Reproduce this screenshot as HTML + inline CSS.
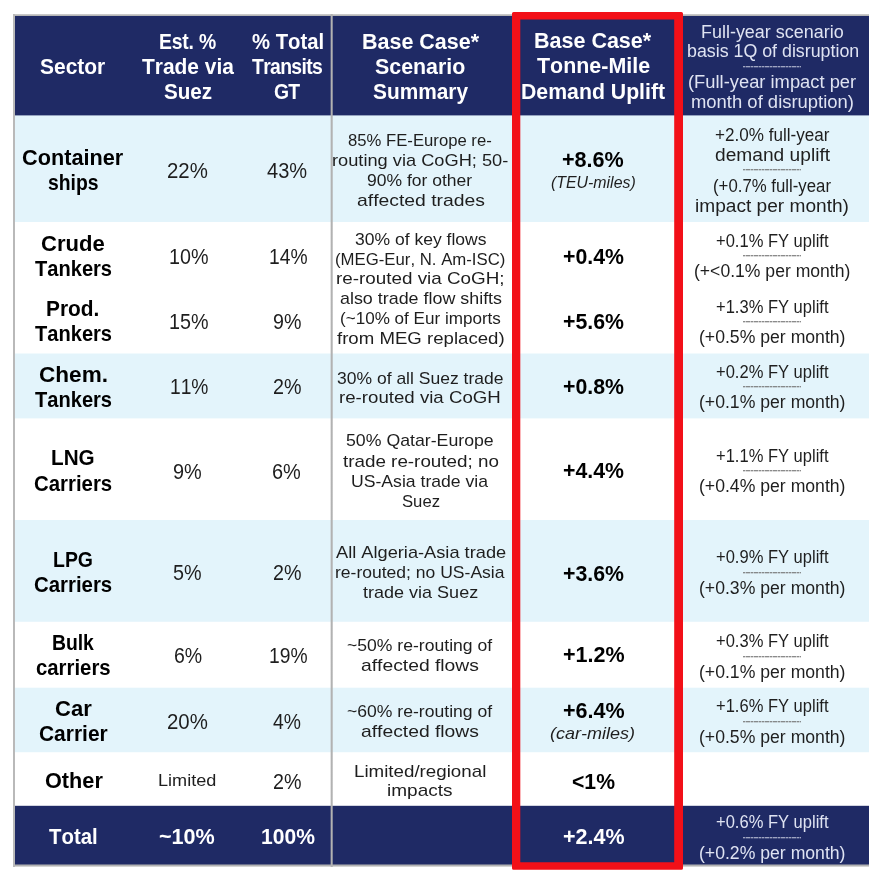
<!DOCTYPE html>
<html lang="en"><head><meta charset="utf-8"><title>Suez disruption scenario table</title>
<style>
html,body{margin:0;padding:0;background:#fff;}
body{width:876px;height:877px;position:relative;overflow:hidden;font-family:"Liberation Sans",sans-serif;}
.row{position:absolute;left:15px;width:854px;}
.t{position:absolute;transform-origin:0 0;font-kerning:none;white-space:nowrap;line-height:24px;height:24px;margin:0;padding:0;}
.dash{position:absolute;left:742.5px;width:58.5px;height:2px;opacity:.8;background:linear-gradient(180deg,rgba(0,0,0,1) 0 55%,rgba(0,0,0,.35) 55% 100%);-webkit-mask:repeating-linear-gradient(90deg,#000 0 2px,rgba(0,0,0,.45) 2px 2.7px);mask:repeating-linear-gradient(90deg,#000 0 2px,rgba(0,0,0,.45) 2px 2.7px);}
.dash.w{background:linear-gradient(180deg,#c9cde0 0 55%,rgba(201,205,224,.35) 55% 100%);opacity:.75;}
.dash.k{background:linear-gradient(180deg,#6f6f6f 0 55%,rgba(111,111,111,.35) 55% 100%);}
.bt{position:absolute;left:13px;top:14px;width:856px;height:2px;background:linear-gradient(180deg,#d2d2d2,#adadad);}
.bl{position:absolute;left:13px;top:14px;width:2px;height:853px;background:#b9b9b9;}
.bb{position:absolute;left:13px;top:865px;width:856px;height:2px;background:linear-gradient(180deg,#b2b2b2 0 50%,#d4d4d4 50% 100%);}
.vline{position:absolute;left:330px;top:14px;width:3px;height:853px;background:linear-gradient(90deg,rgba(176,176,176,.35) 0 1px,#b2b2b2 1px 2px,rgba(176,176,176,.7) 2px 3px);}
.red{position:absolute;left:0;top:0;width:876px;height:877px;pointer-events:none;}
</style></head><body>
<div class="bt"></div><div class="bb"></div><div class="bl"></div>
<div class="row" style="top:16px;height:99px;background:#1f2a65"></div>
<div class="row" style="top:115px;height:1px;background:#95a3bf"></div>
<div class="row" style="top:116px;height:106px;background:#e3f4fb"></div>
<div class="row" style="top:222px;height:131px;background:#ffffff"></div>
<div class="row" style="top:353px;height:1px;background:#f1fafd"></div>
<div class="row" style="top:354px;height:64px;background:#e3f4fb"></div>
<div class="row" style="top:418px;height:1px;background:#f4fbfd"></div>
<div class="row" style="top:419px;height:101px;background:#ffffff"></div>
<div class="row" style="top:520px;height:101px;background:#e3f4fb"></div>
<div class="row" style="top:621px;height:1px;background:#e9f6fc"></div>
<div class="row" style="top:622px;height:65px;background:#ffffff"></div>
<div class="row" style="top:687px;height:1px;background:#f7fcfe"></div>
<div class="row" style="top:688px;height:64px;background:#e3f4fb"></div>
<div class="row" style="top:752px;height:1px;background:#f9fdfe"></div>
<div class="row" style="top:753px;height:52px;background:#ffffff"></div>
<div class="row" style="top:805px;height:1px;background:#d2d4e0"></div>
<div class="row" style="top:806px;height:58px;background:#1f2a65"></div>
<div class="row" style="top:864px;height:1px;background:#6a6f8c"></div>
<div class="vline"></div>
<div class="dash w" style="top:66px"></div>
<div class="dash k" style="top:169px"></div>
<div class="dash k" style="top:255px"></div>
<div class="dash k" style="top:321px"></div>
<div class="dash k" style="top:386px"></div>
<div class="dash k" style="top:470px"></div>
<div class="dash k" style="top:572px"></div>
<div class="dash k" style="top:656px"></div>
<div class="dash k" style="top:721px"></div>
<div class="dash w" style="top:837px"></div>
<span class="t" style="left:40.40px;top:55.40px;font-size:22.5px;color:#fff;letter-spacing:0.000px;transform:scaleX(0.9314);font-weight:bold;">Sector</span>
<span class="t" style="left:159.01px;top:29.90px;font-size:22.5px;color:#fff;letter-spacing:-0.201px;transform:scaleX(0.8600);font-weight:bold;">Est. %</span>
<span class="t" style="left:141.76px;top:54.90px;font-size:22.5px;color:#fff;letter-spacing:0.000px;transform:scaleX(0.9302);font-weight:bold;">Trade via</span>
<span class="t" style="left:164.21px;top:79.70px;font-size:22.5px;color:#fff;letter-spacing:0.000px;transform:scaleX(0.9167);font-weight:bold;">Suez</span>
<span class="t" style="left:251.80px;top:29.90px;font-size:22.5px;color:#fff;letter-spacing:0.000px;transform:scaleX(0.9005);font-weight:bold;">% Total</span>
<span class="t" style="left:252.48px;top:54.90px;font-size:22.5px;color:#fff;letter-spacing:-0.758px;transform:scaleX(0.8600);font-weight:bold;">Transits</span>
<span class="t" style="left:273.61px;top:79.70px;font-size:22.5px;color:#fff;letter-spacing:-1.000px;transform:scaleX(0.8600);font-weight:bold;">GT</span>
<span class="t" style="left:361.56px;top:29.70px;font-size:22.5px;color:#fff;letter-spacing:0.000px;transform:scaleX(0.9549);font-weight:bold;">Base Case*</span>
<span class="t" style="left:374.98px;top:54.90px;font-size:22.5px;color:#fff;letter-spacing:0.000px;transform:scaleX(0.9506);font-weight:bold;">Scenario</span>
<span class="t" style="left:372.80px;top:79.70px;font-size:22.5px;color:#fff;letter-spacing:0.000px;transform:scaleX(0.9265);font-weight:bold;">Summary</span>
<span class="t" style="left:534.46px;top:29.20px;font-size:22.5px;color:#fff;letter-spacing:0.000px;transform:scaleX(0.9557);font-weight:bold;">Base Case*</span>
<span class="t" style="left:536.86px;top:54.40px;font-size:22.5px;color:#fff;letter-spacing:0.000px;transform:scaleX(0.9523);font-weight:bold;">Tonne-Mile</span>
<span class="t" style="left:521.38px;top:79.50px;font-size:22.5px;color:#fff;letter-spacing:0.000px;transform:scaleX(0.9448);font-weight:bold;">Demand Uplift</span>
<span class="t" style="left:700.73px;top:19.70px;font-size:17.5px;color:#dfe3f2;letter-spacing:0.000px;transform:scaleX(1.0255);">Full-year scenario</span>
<span class="t" style="left:686.75px;top:39.40px;font-size:17.5px;color:#dfe3f2;letter-spacing:0.000px;transform:scaleX(1.0174);">basis 1Q of disruption</span>
<span class="t" style="left:688.26px;top:70.40px;font-size:17.5px;color:#dfe3f2;letter-spacing:0.000px;transform:scaleX(1.0479);">(Full-year impact per</span>
<span class="t" style="left:690.58px;top:90.10px;font-size:17.5px;color:#dfe3f2;letter-spacing:0.000px;transform:scaleX(1.0537);">month of disruption)</span>
<span class="t" style="left:22.11px;top:146.20px;font-size:22.5px;color:#000;letter-spacing:0.000px;transform:scaleX(0.9639);font-weight:bold;">Container</span>
<span class="t" style="left:47.82px;top:171.20px;font-size:22.5px;color:#000;letter-spacing:-0.019px;transform:scaleX(0.8600);font-weight:bold;">ships</span>
<span class="t" style="left:40.70px;top:231.70px;font-size:22.5px;color:#000;letter-spacing:0.000px;transform:scaleX(0.9792);font-weight:bold;">Crude</span>
<span class="t" style="left:34.77px;top:256.80px;font-size:22.5px;color:#000;letter-spacing:0.000px;transform:scaleX(0.8928);font-weight:bold;">Tankers</span>
<span class="t" style="left:46.10px;top:296.70px;font-size:22.5px;color:#000;letter-spacing:0.000px;transform:scaleX(0.9275);font-weight:bold;">Prod.</span>
<span class="t" style="left:34.77px;top:321.90px;font-size:22.5px;color:#000;letter-spacing:0.000px;transform:scaleX(0.8928);font-weight:bold;">Tankers</span>
<span class="t" style="left:38.57px;top:362.80px;font-size:22.5px;color:#000;letter-spacing:0.000px;transform:scaleX(1.0031);font-weight:bold;">Chem.</span>
<span class="t" style="left:34.77px;top:388.00px;font-size:22.5px;color:#000;letter-spacing:0.000px;transform:scaleX(0.8928);font-weight:bold;">Tankers</span>
<span class="t" style="left:51.12px;top:446.20px;font-size:22.5px;color:#000;letter-spacing:0.000px;transform:scaleX(0.9194);font-weight:bold;">LNG</span>
<span class="t" style="left:34.16px;top:471.80px;font-size:22.5px;color:#000;letter-spacing:0.000px;transform:scaleX(0.9057);font-weight:bold;">Carriers</span>
<span class="t" style="left:53.20px;top:547.70px;font-size:22.5px;color:#000;letter-spacing:0.000px;transform:scaleX(0.8650);font-weight:bold;">LPG</span>
<span class="t" style="left:34.16px;top:573.20px;font-size:22.5px;color:#000;letter-spacing:0.000px;transform:scaleX(0.9057);font-weight:bold;">Carriers</span>
<span class="t" style="left:52.21px;top:630.90px;font-size:22.5px;color:#000;letter-spacing:-0.060px;transform:scaleX(0.8600);font-weight:bold;">Bulk</span>
<span class="t" style="left:35.71px;top:656.20px;font-size:22.5px;color:#000;letter-spacing:0.000px;transform:scaleX(0.9038);font-weight:bold;">carriers</span>
<span class="t" style="left:54.60px;top:696.80px;font-size:22.5px;color:#000;letter-spacing:0.000px;transform:scaleX(0.9792);font-weight:bold;">Car</span>
<span class="t" style="left:38.64px;top:722.20px;font-size:22.5px;color:#000;letter-spacing:0.000px;transform:scaleX(0.9306);font-weight:bold;">Carrier</span>
<span class="t" style="left:44.51px;top:769.20px;font-size:22.5px;color:#000;letter-spacing:0.000px;transform:scaleX(0.9635);font-weight:bold;">Other</span>
<span class="t" style="left:49.27px;top:825.00px;font-size:22.5px;color:#fff;letter-spacing:0.000px;transform:scaleX(0.9056);font-weight:bold;">Total</span>
<span class="t" style="left:167.17px;top:159.00px;font-size:22px;color:#1e1e1e;letter-spacing:0.000px;transform:scaleX(0.9278);">22%</span>
<span class="t" style="left:267.04px;top:159.00px;font-size:22px;color:#1e1e1e;letter-spacing:0.000px;transform:scaleX(0.9101);">43%</span>
<span class="t" style="left:168.50px;top:245.20px;font-size:22px;color:#1e1e1e;letter-spacing:0.000px;transform:scaleX(0.8972);">10%</span>
<span class="t" style="left:268.53px;top:245.20px;font-size:22px;color:#1e1e1e;letter-spacing:0.000px;transform:scaleX(0.8756);">14%</span>
<span class="t" style="left:168.50px;top:310.00px;font-size:22px;color:#1e1e1e;letter-spacing:0.000px;transform:scaleX(0.8972);">15%</span>
<span class="t" style="left:272.68px;top:310.00px;font-size:22px;color:#1e1e1e;letter-spacing:0.000px;transform:scaleX(0.8939);">9%</span>
<span class="t" style="left:169.54px;top:375.10px;font-size:22px;color:#1e1e1e;letter-spacing:0.000px;transform:scaleX(0.8732);">11%</span>
<span class="t" style="left:272.61px;top:375.10px;font-size:22px;color:#1e1e1e;letter-spacing:0.000px;transform:scaleX(0.8961);">2%</span>
<span class="t" style="left:173.17px;top:460.00px;font-size:22px;color:#1e1e1e;letter-spacing:0.000px;transform:scaleX(0.9039);">9%</span>
<span class="t" style="left:272.19px;top:460.00px;font-size:22px;color:#1e1e1e;letter-spacing:0.000px;transform:scaleX(0.9065);">6%</span>
<span class="t" style="left:173.31px;top:561.30px;font-size:22px;color:#1e1e1e;letter-spacing:0.000px;transform:scaleX(0.8994);">5%</span>
<span class="t" style="left:272.61px;top:561.30px;font-size:22px;color:#1e1e1e;letter-spacing:0.000px;transform:scaleX(0.8961);">2%</span>
<span class="t" style="left:173.51px;top:643.80px;font-size:22px;color:#1e1e1e;letter-spacing:0.000px;transform:scaleX(0.8864);">6%</span>
<span class="t" style="left:268.53px;top:643.80px;font-size:22px;color:#1e1e1e;letter-spacing:0.000px;transform:scaleX(0.8756);">19%</span>
<span class="t" style="left:167.17px;top:710.00px;font-size:22px;color:#1e1e1e;letter-spacing:0.000px;transform:scaleX(0.9278);">20%</span>
<span class="t" style="left:273.16px;top:710.00px;font-size:22px;color:#1e1e1e;letter-spacing:0.000px;transform:scaleX(0.8785);">4%</span>
<span class="t" style="left:157.72px;top:769.20px;font-size:17px;color:#1e1e1e;letter-spacing:0.000px;transform:scaleX(1.0648);">Limited</span>
<span class="t" style="left:272.61px;top:769.70px;font-size:22px;color:#1e1e1e;letter-spacing:0.000px;transform:scaleX(0.8961);">2%</span>
<span class="t" style="left:159.45px;top:824.90px;font-size:22.5px;color:#fff;letter-spacing:0.000px;transform:scaleX(0.9596);font-weight:bold;">~10%</span>
<span class="t" style="left:260.67px;top:824.90px;font-size:22.5px;color:#fff;letter-spacing:0.000px;transform:scaleX(0.9363);font-weight:bold;">100%</span>
<span class="t" style="left:348.47px;top:129.20px;font-size:17px;color:#1e1e1e;letter-spacing:0.000px;transform:scaleX(0.9817);">85% FE-Europe re-</span>
<span class="t" style="left:332.39px;top:149.20px;font-size:17px;color:#1e1e1e;letter-spacing:0.000px;transform:scaleX(1.0725);">routing via CoGH; 50-</span>
<span class="t" style="left:367.48px;top:168.90px;font-size:17px;color:#1e1e1e;letter-spacing:0.000px;transform:scaleX(1.0299);">90% for other</span>
<span class="t" style="left:356.58px;top:188.60px;font-size:17px;color:#1e1e1e;letter-spacing:0.000px;transform:scaleX(1.1375);">affected trades</span>
<span class="t" style="left:354.53px;top:227.70px;font-size:17px;color:#1e1e1e;letter-spacing:0.000px;transform:scaleX(1.0309);">30% of key flows</span>
<span class="t" style="left:334.96px;top:247.70px;font-size:17px;color:#1e1e1e;letter-spacing:0.000px;transform:scaleX(0.9858);">(MEG-Eur, N. Am-ISC)</span>
<span class="t" style="left:335.55px;top:267.40px;font-size:17px;color:#1e1e1e;letter-spacing:0.000px;transform:scaleX(1.1080);">re-routed via CoGH;</span>
<span class="t" style="left:339.64px;top:287.10px;font-size:17px;color:#1e1e1e;letter-spacing:0.000px;transform:scaleX(1.0519);">also trade flow shifts</span>
<span class="t" style="left:339.94px;top:307.10px;font-size:17px;color:#1e1e1e;letter-spacing:0.000px;transform:scaleX(1.0046);">(~10% of Eur imports</span>
<span class="t" style="left:336.54px;top:327.10px;font-size:17px;color:#1e1e1e;letter-spacing:0.000px;transform:scaleX(1.0952);">from MEG replaced)</span>
<span class="t" style="left:337.33px;top:366.70px;font-size:17px;color:#1e1e1e;letter-spacing:0.000px;transform:scaleX(1.0300);">30% of all Suez trade</span>
<span class="t" style="left:338.96px;top:386.10px;font-size:17px;color:#1e1e1e;letter-spacing:0.000px;transform:scaleX(1.0975);">re-routed via CoGH</span>
<span class="t" style="left:345.89px;top:429.00px;font-size:17px;color:#1e1e1e;letter-spacing:0.000px;transform:scaleX(1.0420);">50% Qatar-Europe</span>
<span class="t" style="left:342.52px;top:449.50px;font-size:17px;color:#1e1e1e;letter-spacing:0.000px;transform:scaleX(1.1070);">trade re-routed; no</span>
<span class="t" style="left:350.94px;top:469.50px;font-size:17px;color:#1e1e1e;letter-spacing:0.000px;transform:scaleX(1.0362);">US-Asia trade via</span>
<span class="t" style="left:402.04px;top:489.60px;font-size:17px;color:#1e1e1e;letter-spacing:0.000px;transform:scaleX(0.9804);">Suez</span>
<span class="t" style="left:335.66px;top:540.70px;font-size:17px;color:#1e1e1e;letter-spacing:-0.000px;transform:scaleX(1.0719);">All Algeria-Asia trade</span>
<span class="t" style="left:334.54px;top:560.60px;font-size:17px;color:#1e1e1e;letter-spacing:0.000px;transform:scaleX(1.0308);">re-routed; no US-Asia</span>
<span class="t" style="left:363.23px;top:580.60px;font-size:17px;color:#1e1e1e;letter-spacing:0.000px;transform:scaleX(1.0598);">trade via Suez</span>
<span class="t" style="left:347.41px;top:634.00px;font-size:17px;color:#1e1e1e;letter-spacing:0.000px;transform:scaleX(1.0344);">~50% re-routing of</span>
<span class="t" style="left:360.78px;top:654.40px;font-size:17px;color:#1e1e1e;letter-spacing:0.000px;transform:scaleX(1.1344);">affected flows</span>
<span class="t" style="left:347.41px;top:699.90px;font-size:17px;color:#1e1e1e;letter-spacing:0.000px;transform:scaleX(1.0344);">~60% re-routing of</span>
<span class="t" style="left:360.78px;top:719.80px;font-size:17px;color:#1e1e1e;letter-spacing:0.000px;transform:scaleX(1.1344);">affected flows</span>
<span class="t" style="left:354.26px;top:760.00px;font-size:17px;color:#1e1e1e;letter-spacing:0.000px;transform:scaleX(1.1023);">Limited/regional</span>
<span class="t" style="left:386.73px;top:779.00px;font-size:17px;color:#1e1e1e;letter-spacing:-0.000px;transform:scaleX(1.1193);">impacts</span>
<span class="t" style="left:562.49px;top:148.30px;font-size:22.5px;color:#000;letter-spacing:0.000px;transform:scaleX(0.9589);font-weight:bold;">+8.6%</span>
<span class="t" style="left:550.66px;top:171.10px;font-size:17px;color:#1e1e1e;letter-spacing:0.000px;transform:scaleX(0.9342);font-style:italic;">(TEU-miles)</span>
<span class="t" style="left:563.01px;top:244.70px;font-size:22.5px;color:#000;letter-spacing:0.000px;transform:scaleX(0.9462);font-weight:bold;">+0.4%</span>
<span class="t" style="left:563.01px;top:309.90px;font-size:22.5px;color:#000;letter-spacing:0.000px;transform:scaleX(0.9462);font-weight:bold;">+5.6%</span>
<span class="t" style="left:563.01px;top:375.10px;font-size:22.5px;color:#000;letter-spacing:0.000px;transform:scaleX(0.9462);font-weight:bold;">+0.8%</span>
<span class="t" style="left:563.01px;top:459.20px;font-size:22.5px;color:#000;letter-spacing:0.000px;transform:scaleX(0.9462);font-weight:bold;">+4.4%</span>
<span class="t" style="left:563.01px;top:561.50px;font-size:22.5px;color:#000;letter-spacing:0.000px;transform:scaleX(0.9462);font-weight:bold;">+3.6%</span>
<span class="t" style="left:562.70px;top:643.20px;font-size:22.5px;color:#000;letter-spacing:0.000px;transform:scaleX(0.9557);font-weight:bold;">+1.2%</span>
<span class="t" style="left:562.70px;top:699.40px;font-size:22.5px;color:#000;letter-spacing:0.000px;transform:scaleX(0.9557);font-weight:bold;">+6.4%</span>
<span class="t" style="left:550.46px;top:721.50px;font-size:17px;color:#1e1e1e;letter-spacing:0.000px;transform:scaleX(1.0579);font-style:italic;">(car-miles)</span>
<span class="t" style="left:571.91px;top:769.80px;font-size:22.5px;color:#000;letter-spacing:0.000px;transform:scaleX(0.9406);font-weight:bold;">&lt;1%</span>
<span class="t" style="left:562.60px;top:825.00px;font-size:22.5px;color:#fff;letter-spacing:0.000px;transform:scaleX(0.9541);font-weight:bold;">+2.4%</span>
<span class="t" style="left:714.87px;top:123.10px;font-size:17.5px;color:#1e1e1e;letter-spacing:0.000px;transform:scaleX(0.9762);">+2.0% full-year</span>
<span class="t" style="left:714.90px;top:142.80px;font-size:17.5px;color:#1e1e1e;letter-spacing:-0.000px;transform:scaleX(1.0950);">demand uplift</span>
<span class="t" style="left:712.96px;top:173.80px;font-size:17.5px;color:#1e1e1e;letter-spacing:0.000px;transform:scaleX(0.9592);">(+0.7% full-year</span>
<span class="t" style="left:694.72px;top:194.00px;font-size:17.5px;color:#1e1e1e;letter-spacing:0.000px;transform:scaleX(1.0917);">impact per month)</span>
<span class="t" style="left:716.09px;top:228.90px;font-size:17.5px;color:#1e1e1e;letter-spacing:0.000px;transform:scaleX(0.9444);">+0.1% FY uplift</span>
<span class="t" style="left:694.21px;top:259.30px;font-size:17.5px;color:#1e1e1e;letter-spacing:0.000px;transform:scaleX(1.0048);">(+&lt;0.1% per month)</span>
<span class="t" style="left:716.09px;top:294.60px;font-size:17.5px;color:#1e1e1e;letter-spacing:0.000px;transform:scaleX(0.9444);">+1.3% FY uplift</span>
<span class="t" style="left:699.11px;top:325.00px;font-size:17.5px;color:#1e1e1e;letter-spacing:0.000px;transform:scaleX(1.0074);">(+0.5% per month)</span>
<span class="t" style="left:716.09px;top:359.50px;font-size:17.5px;color:#1e1e1e;letter-spacing:0.000px;transform:scaleX(0.9444);">+0.2% FY uplift</span>
<span class="t" style="left:699.11px;top:389.90px;font-size:17.5px;color:#1e1e1e;letter-spacing:0.000px;transform:scaleX(1.0074);">(+0.1% per month)</span>
<span class="t" style="left:716.09px;top:443.80px;font-size:17.5px;color:#1e1e1e;letter-spacing:0.000px;transform:scaleX(0.9444);">+1.1% FY uplift</span>
<span class="t" style="left:699.11px;top:474.20px;font-size:17.5px;color:#1e1e1e;letter-spacing:0.000px;transform:scaleX(1.0074);">(+0.4% per month)</span>
<span class="t" style="left:716.09px;top:545.40px;font-size:17.5px;color:#1e1e1e;letter-spacing:0.000px;transform:scaleX(0.9444);">+0.9% FY uplift</span>
<span class="t" style="left:699.11px;top:575.80px;font-size:17.5px;color:#1e1e1e;letter-spacing:0.000px;transform:scaleX(1.0074);">(+0.3% per month)</span>
<span class="t" style="left:716.09px;top:629.20px;font-size:17.5px;color:#1e1e1e;letter-spacing:0.000px;transform:scaleX(0.9444);">+0.3% FY uplift</span>
<span class="t" style="left:699.11px;top:659.60px;font-size:17.5px;color:#1e1e1e;letter-spacing:0.000px;transform:scaleX(1.0074);">(+0.1% per month)</span>
<span class="t" style="left:716.09px;top:694.40px;font-size:17.5px;color:#1e1e1e;letter-spacing:0.000px;transform:scaleX(0.9444);">+1.6% FY uplift</span>
<span class="t" style="left:699.11px;top:724.80px;font-size:17.5px;color:#1e1e1e;letter-spacing:0.000px;transform:scaleX(1.0074);">(+0.5% per month)</span>
<span class="t" style="left:716.09px;top:810.30px;font-size:17.5px;color:#dfe3f2;letter-spacing:0.000px;transform:scaleX(0.9444);">+0.6% FY uplift</span>
<span class="t" style="left:699.11px;top:840.70px;font-size:17.5px;color:#dfe3f2;letter-spacing:0.000px;transform:scaleX(1.0074);">(+0.2% per month)</span>
<svg class="red" width="876" height="877" viewBox="0 0 876 877"><path fill="#f21018" fill-rule="evenodd" d="M513.6 12H681.4Q683 12 683 13.6V868.2Q683 869.8 681.4 869.8H513.6Q512 869.8 512 868.2V13.6Q512 12 513.6 12ZM520.3 19.4V862.3H674.2V19.4Z"/></svg>
</body></html>
